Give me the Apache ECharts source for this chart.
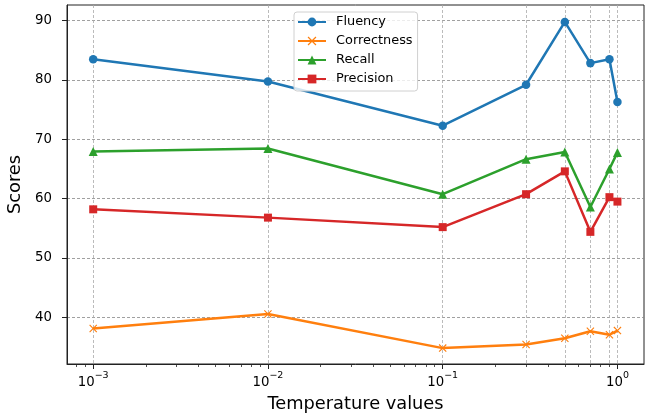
<!DOCTYPE html>
<html><head><meta charset="utf-8">
<script src="https://cdn.jsdelivr.net/npm/echarts@6/dist/echarts.min.js"></script>
<style>html,body{margin:0;padding:0;background:#fff}#c{width:652px;height:418px}</style>
</head><body><div id="c"></div>
<script>
const temperatures = [0.001, 0.01, 0.1, 0.3, 0.5, 0.7, 0.9, 1.0];
const fluency     = [83.5, 79.75, 72.3, 79.2, 89.8, 82.85, 83.5, 76.3];
const correctness = [38.1, 40.55, 34.8, 35.4, 36.45, 37.65, 37.05, 37.75];
const recall      = [67.95, 68.45, 60.75, 66.65, 67.85, 58.6, 65.0, 67.8];
const precision   = [58.2, 56.8, 55.2, 60.75, 64.6, 54.4, 60.25, 59.5];
const seriesNames = ['Fluency', 'Correctness', 'Recall', 'Precision'];
const yTicks = [40, 50, 60, 70, 80, 90];
const xMajorTicks = [0.001, 0.01, 0.1, 1];
const xMajorExponents = ['\u22123', '\u22122', '\u22121', '0'];
const xMinorTicks = [0.0008, 0.0009,
  0.002, 0.003, 0.004, 0.005, 0.006, 0.007, 0.008, 0.009,
  0.02, 0.03, 0.04, 0.05, 0.06, 0.07, 0.08, 0.09,
  0.2, 0.3, 0.4, 0.5, 0.6, 0.7, 0.8, 0.9];

const colors = ['#1f77b4', '#ff7f0e', '#2ca02c', '#d62728'];
const symbols = ['circle', 'path://M0,1 L1,0 L5,4 L9,0 L10,1 L6,5 L10,9 L9,10 L5,6 L1,10 L0,9 L4,5 Z', 'triangle', 'rect'];
const symbolSizes = [8.5, 8, 9, 8];
const values = [fluency, correctness, recall, precision];

const FONT = 'DejaVu Sans';
const X_MIN = 0.000708, X_MAX = 1.419;
const Y_MIN = 32.12, Y_MAX = 92.65;

const chart = echarts.init(document.getElementById('c'), null, {renderer: 'canvas'});
const baseX = {
  type: 'log', logBase: 10, min: X_MIN, max: X_MAX, position: 'bottom', offset: 0,
  gridIndex: 0
};
chart.setOption({
  animation: false,
  backgroundColor: '#fff',
  textStyle: {fontFamily: FONT},
  grid: {left: 67, right: 8, top: 5, bottom: 54, containLabel: false, outerBoundsMode: 'none',
    show: true, borderColor: '#222', borderWidth: 1, backgroundColor: 'transparent'},
  legend: {
    data: seriesNames, orient: 'vertical', left: 294, top: 12,
    padding: [3, 5, 5, 3], itemGap: 5, itemWidth: 28, itemHeight: 11,
    backgroundColor: 'rgba(255,255,255,0.8)', borderColor: '#d0d0d0', borderWidth: 1, borderRadius: 3,
    textStyle: {fontFamily: FONT, fontSize: 12.9, color: '#000', lineHeight: 14, padding: [0, 0, 0, 5]},
    selectedMode: false
  },
  xAxis: [
    Object.assign({}, baseX, {
      name: 'Temperature values', nameLocation: 'middle', nameGap: 31,
      nameTextStyle: {fontFamily: FONT, fontSize: 17.8, color: '#000'},
      axisLine: {show: true, lineStyle: {color: '#222', width: 1}},
      axisTick: {show: true, customValues: xMajorTicks, length: 5, lineStyle: {color: '#222', width: 1}},
      axisLabel: {
        show: true, customValues: xMajorTicks, margin: 7,
        formatter: function (v) {
          let best = 0;
          for (let i = 0; i < xMajorTicks.length; i++) {
            if (Math.abs(Math.log10(xMajorTicks[i]) - Math.log10(v)) < Math.abs(Math.log10(xMajorTicks[best]) - Math.log10(v))) best = i;
          }
          return '{b|10}{s|' + xMajorExponents[best] + '}';
        },
        rich: {
          b: {fontFamily: FONT, fontSize: 13.3, color: '#000', lineHeight: 18, verticalAlign: 'bottom'},
          s: {fontFamily: FONT, fontSize: 9.5, color: '#000', lineHeight: 10, verticalAlign: 'top'}
        }
      },
      splitLine: {show: false}
    }),
    Object.assign({}, baseX, {
      axisLine: {show: false},
      axisTick: {show: true, customValues: xMinorTicks, length: 3, lineStyle: {color: '#222', width: 0.8}},
      axisLabel: {show: false},
      splitLine: {show: false}
    }),
    Object.assign({}, baseX, {
      axisLine: {show: false},
      axisTick: {show: false, customValues: temperatures},
      axisLabel: {show: false},
      splitLine: {show: true, lineStyle: {color: '#aaa', width: 0.8, type: [3, 2]}}
    })
  ],
  yAxis: {
    type: 'value', min: Y_MIN, max: Y_MAX,
    name: 'Scores', nameLocation: 'middle', nameGap: 34,
    nameTextStyle: {fontFamily: FONT, fontSize: 17.8, color: '#000'},
    axisLine: {show: true, lineStyle: {color: '#222', width: 1}},
    axisTick: {show: true, customValues: yTicks, length: 5, lineStyle: {color: '#222', width: 1}},
    axisLabel: {show: true, customValues: yTicks, margin: 15, fontFamily: FONT, fontSize: 13.3, color: '#000'},
    splitLine: {show: true, lineStyle: {color: '#888', width: 0.8, type: [3, 2]}}
  },
  series: seriesNames.map((name, i) => ({
    name: name, type: 'line', xAxisIndex: 0,
    data: temperatures.map((t, j) => [t, values[i][j]]),
    symbol: symbols[i], symbolSize: symbolSizes[i], showSymbol: true,
    lineStyle: {color: colors[i], width: 2.5},
    itemStyle: {color: colors[i], opacity: 1},
    emphasis: {disabled: true},
    z: 3 + i
  }))
});
</script></body></html>
